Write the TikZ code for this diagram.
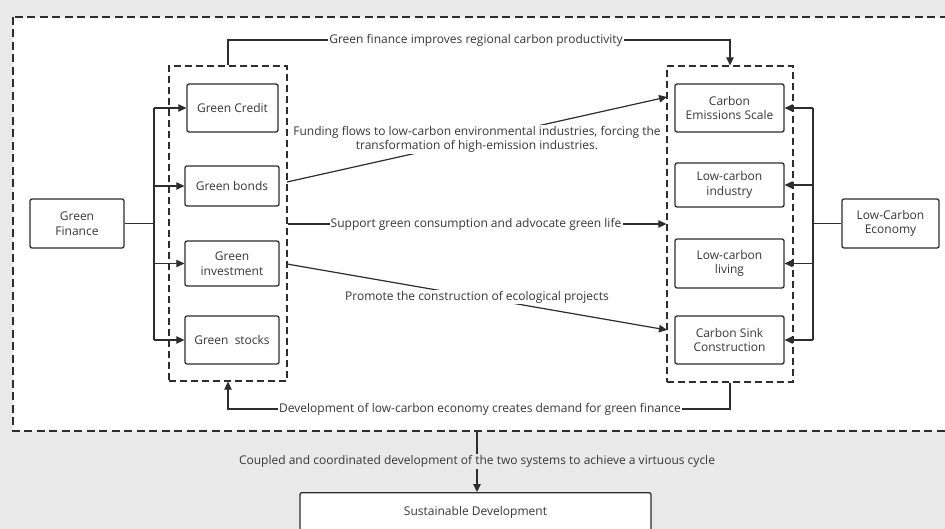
\documentclass[tikz,border=0pt]{standalone}
\usepackage{fontspec}
\setmainfont{Open Sans}
\usetikzlibrary{arrows.meta,positioning,calc}
\definecolor{bggray}{RGB}{233,233,233}
\definecolor{ln}{RGB}{45,45,45}
\definecolor{tx}{RGB}{55,55,55}
\begin{document}
\begin{tikzpicture}[x=1pt,y=-1pt,
  font=\fontsize{12}{14.5}\selectfont,
  every node/.style={text=tx},
  box/.style={draw=ln,line width=1.3pt,rounded corners=2pt,fill=white,align=center,inner sep=1pt},
  grp/.style={draw=ln,line width=1.3pt,dash pattern=on 7pt off 4pt},
  conn/.style={draw=ln,line width=1.2pt},
  arr/.style={conn,-{Triangle[length=8pt,width=7.5pt]}},
  lbl/.style={fill=white,inner sep=1pt,align=center}]
\useasboundingbox (0,0) rectangle (945,529);
\fill[bggray] (0,0) rectangle (945,529);
\clip (0,0) rectangle (945,529);
% big dashed region
\fill[white] (13,17) rectangle (960,431);
\draw[grp,dash pattern=on 8pt off 4.5pt] (13,17) rectangle (960,431);
% groups
\node[grp,minimum width=118pt,minimum height=315pt,inner sep=0pt] (lg) at (228,223.5) {};
\node[grp,minimum width=126pt,minimum height=316pt,inner sep=0pt] (rg) at (730,224) {};
% boxes
\node[box,minimum width=91pt,minimum height=48pt] (gc) at (232.5,108) {Green Credit};
\node[box,minimum width=94pt,minimum height=40pt] (gb) at (232,186) {Green bonds};
\node[box,minimum width=94pt,minimum height=45pt] (gi) at (232,263.5) {Green\\investment};
\node[box,minimum width=94pt,minimum height=48pt] (gs) at (232,340) {Green~~stocks};
\node[box,minimum width=94pt,minimum height=49pt] (gf) at (77,223.5) {Green\\Finance};
\node[box,minimum width=109pt,minimum height=48pt] (ces) at (729.5,108) {Carbon\\Emissions Scale};
\node[box,minimum width=109pt,minimum height=44pt] (lci) at (729.5,185) {Low-carbon\\industry};
\node[box,minimum width=109pt,minimum height=49pt] (lcl) at (729.5,263.5) {Low-carbon\\living};
\node[box,minimum width=109pt,minimum height=48pt] (csc) at (729.5,340) {Carbon Sink\\Construction};
\node[box,minimum width=97pt,minimum height=49pt] (lce) at (890.5,223.5) {Low-Carbon\\Economy};
\node[box,minimum width=351pt,minimum height=60pt,anchor=north] (sd) at (475.5,492) {};
\node at (475.5,512) {Sustainable Development};
% left branch
\coordinate (bl) at (154,0);
\draw[conn] (gf.east) -- (bl |- gf);
\draw[conn] (bl |- gc) -- (bl |- gs);
\foreach \n in {gc,gb,gi,gs} \draw[arr] (bl |- \n) -- (\n.west);
% right branch
\coordinate (br) at (813,0);
\draw[conn] (lce.west) -- (br |- lce);
\draw[conn] (br |- ces) -- (br |- csc);
\foreach \n in {ces,lci,lcl,csc} \draw[arr] (br |- \n) -- (\n.east);
% top loop
\node[lbl] (t1) at (476,40) {Green finance improves regional carbon productivity};
\draw[conn] (lg.north) |- (t1.west);
\draw[arr] (t1.east) -| (rg.north);
% bottom loop
\node[lbl] (t2) at (480,409) {Development of low-carbon economy creates demand for green finance};
\draw[conn] (rg.south) |- (t2.east);
\draw[arr] (t2.west) -| (lg.south);
% support
\node[lbl] (t3) at (476,224) {Support green consumption and advocate green life};
\draw[conn] (lg.east |- t3) -- (t3.west);
\draw[arr] (t3.east) -- (rg.west |- t3);
% funding
\coordinate (f1) at (287,182);
\coordinate (f2) at (667,97);
\draw[arr] (f1) -- node[lbl] {Funding flows to low-carbon environmental industries, forcing the\\transformation of high-emission industries.} (f2);
% promote
\coordinate (p1) at (287,264);
\coordinate (p2) at (667,330);
\draw[arr] (p1) -- node[lbl] {Promote the construction of ecological projects} (p2);
% coupled
\coordinate (c1) at (477,431);
\draw[arr] (c1) -- node[fill=bggray,inner sep=1pt,pos=0.5] {Coupled and coordinated development of the two systems to achieve a virtuous cycle} (c1 |- sd.north);
\end{tikzpicture}
\end{document}
